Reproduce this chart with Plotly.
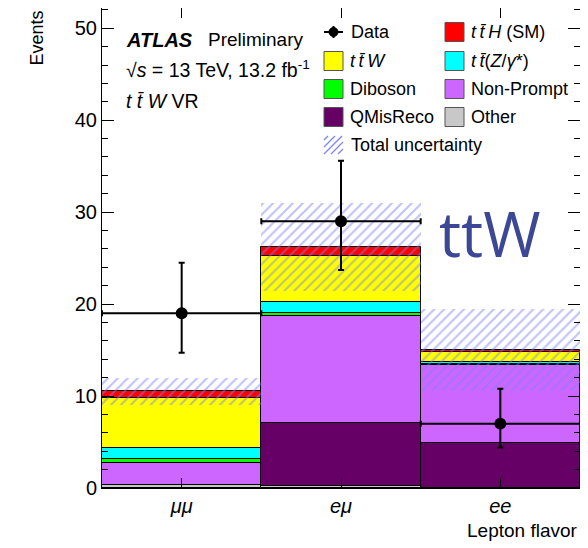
import plotly.graph_objects as go

# ---------------- data ----------------
bins = ["μμ", "eμ", "ee"]
x_pos = [0, 1, 2]
other = [0.30, 0.25, 0.00]
qmisreco = [0.00, 6.85, 4.85]
nonprompt = [2.40, 11.60, 8.55]
diboson = [0.40, 0.30, 0.05]
ttz = [1.20, 1.20, 0.20]
ttw = [5.45, 5.00, 1.15]
tth = [0.75, 1.00, 0.20]
total_unc = [1.45, 4.75, 4.45]
data = [19, 29, 7]
data_err_up = [5.5, 6.6, 3.8]
data_err_dn = [4.3, 5.3, 2.6]

# page has an 8px default body margin; compensate
OFF = 8
W, H = 588 - OFF, 548 - OFF
# plot area in page pixels: x 102..580, y 8..488
PL, PR, PT, PB = 102, 580, 8, 488
L, R, T, B = PL - OFF, (W + OFF) - PR, PT - OFF, (H + OFF) - PB
PW, PH = PR - PL, PB - PT


def px(x):
    return (x - PL) / PW


def py(y):
    return (PB - y) / PH


components = [
    ("Other", other, "#c8c8c8"),
    ("QMisReco", qmisreco, "#660066"),
    ("Non-Prompt", nonprompt, "#cc66ff"),
    ("Diboson", diboson, "#00ff00"),
    ("ttZ", ttz, "#00ffff"),
    ("ttW", ttw, "#ffff00"),
    ("ttH", tth, "#ff0000"),
]

fig = go.Figure()
base = [0.0, 0.0, 0.0]
for name, vals, col in components:
    fig.add_trace(go.Bar(
        x=x_pos, y=vals, base=list(base), width=1.0, name=name,
        marker=dict(color=col, line=dict(color="black", width=1)),
        showlegend=False, hoverinfo="skip"))
    base = [b + v for b, v in zip(base, vals)]

total = base
HATCH = "rgb(125,130,245)"
fig.add_trace(go.Bar(
    x=x_pos, y=[2 * u for u in total_unc],
    base=[t - u for t, u in zip(total, total_unc)], width=1.0,
    marker=dict(color="rgba(0,0,0,0)", line=dict(width=0),
                pattern=dict(shape="/", fgcolor=HATCH,
                             bgcolor="rgba(0,0,0,0)", size=7, solidity=0.28)),
    showlegend=False, hoverinfo="skip"))

fig.add_trace(go.Scatter(
    x=x_pos, y=data, mode="markers",
    marker=dict(color="black", size=12),
    error_y=dict(type="data", symmetric=False, array=data_err_up,
                 arrayminus=data_err_dn, color="black", thickness=2, width=3),
    error_x=dict(type="constant", value=0.5, color="black", thickness=2, width=3),
    showlegend=False, hoverinfo="skip"))

FONT = "Liberation Sans, Arial, sans-serif"
fig.update_layout(
    width=W, height=H, margin=dict(l=L, r=R, t=T, b=B, autoexpand=False),
    paper_bgcolor="white", plot_bgcolor="white",
    barmode="overlay", bargap=0, showlegend=False,
    font=dict(family=FONT, color="black", size=19),
)
fig.update_xaxes(
    range=[-0.5, 2.5], tickvals=x_pos, ticktext=[f"<i>{b}</i>" for b in bins],
    ticks="inside", ticklen=10, tickcolor="black", showline=True, linecolor="black",
    linewidth=1, mirror="ticks", showgrid=False, zeroline=False,
    tickfont=dict(size=20, family=FONT))
fig.update_yaxes(
    range=[0, 52.2], tickvals=[0, 10, 20, 30, 40, 50], ticks="inside", ticklen=12,
    tickcolor="black", showline=True, linecolor="black", linewidth=1, mirror="ticks",
    showgrid=False, zeroline=False, tickfont=dict(size=20, family=FONT),
    minor=dict(dtick=2, ticks="inside", ticklen=6, tickcolor="black", showgrid=False))

ann = []
shapes = []


def text(x, y, s, size=18, anchor="left", color="black", family=FONT):
    ann.append(dict(x=px(x), y=py(y), xref="paper", yref="paper", text=s,
                    showarrow=False, xanchor=anchor, yanchor="middle",
                    font=dict(size=size, color=color, family=family)))


# axis titles
ann.append(dict(x=px(37), y=py(9), xref="paper", yref="paper", text="Events",
                textangle=-90, showarrow=False, xanchor="center", yanchor="top",
                font=dict(size=18, family=FONT)))
ann.append(dict(x=px(580), y=py(530), xref="paper", yref="paper", text="Lepton flavor",
                showarrow=False, xanchor="right", yanchor="middle",
                font=dict(size=19, family=FONT)))

TS = "\u2009"  # thin space
# ATLAS label
text(124, 40, "<b><i>ATLAS</i></b>", size=20)
text(206, 40, "Preliminary", size=19)
text(124, 69, "√<i>s</i> = 13 TeV, 13.2 fb<sup>-1</sup>", size=19.5)
text(124, 101, "<i>t t̄ W</i> VR", size=19.5)

# big label
text(437, 233, "ttW", size=62, color="#3c4896", family="Open Sans, Liberation Sans, sans-serif")

# legend
rows = [32, 61, 89, 117, 145]
c1x, c2x = 324, 445
box = 19
# Data entry
shapes.append(dict(type="line", xref="paper", yref="paper", x0=px(324), x1=px(343),
                   y0=py(rows[0]), y1=py(rows[0]), line=dict(color="black", width=2)))
shapes.append(dict(type="line", xref="paper", yref="paper", x0=px(333.5), x1=px(333.5),
                   y0=py(rows[0] - 6), y1=py(rows[0] + 6), line=dict(color="black", width=2)))
shapes.append(dict(type="circle", xref="paper", yref="paper", x0=px(329), x1=px(338),
                   y0=py(rows[0] + 4.5), y1=py(rows[0] - 4.5), fillcolor="black",
                   line=dict(color="black", width=1)))
text(349, rows[0], "Data")

entries = [
    (c2x, rows[0], "#ff0000", f"<i>t{TS}t̄{TS}H</i> (SM)"),
    (c1x, rows[1], "#ffff00", f"<i>t{TS}t̄{TS}W</i>"),
    (c2x, rows[1], "#00ffff", f"<i>t{TS}t̄</i>(<i>Z</i>/<i>γ</i>*)"),
    (c1x, rows[2], "#00ff00", "Diboson"),
    (c2x, rows[2], "#cc66ff", "Non-Prompt"),
    (c1x, rows[3], "#660066", "QMisReco"),
    (c2x, rows[3], "#c8c8c8", "Other"),
]
for bx, by, col, lab in entries:
    shapes.append(dict(type="rect", xref="paper", yref="paper", x0=px(bx), x1=px(bx + box),
                       y0=py(by + box / 2), y1=py(by - box / 2), fillcolor=col,
                       line=dict(color="#555555", width=1)))
    text(bx + box + 5, by, lab)

# Total uncertainty hatch entry
top, bot = rows[4] - 9, rows[4] + 9
for k in range(-3, 4):
    x0 = c1x + k * 7
    xa, xb = max(x0, c1x), min(x0 + 18, c1x + box)
    if xb <= xa:
        continue
    shapes.append(dict(type="line", xref="paper", yref="paper",
                       x0=px(xa), x1=px(xb),
                       y0=py(bot - (xa - x0)), y1=py(bot - (xb - x0)),
                       line=dict(color=HATCH, width=1.2)))
text(349, rows[4], "Total uncertainty")

fig.update_layout(annotations=ann, shapes=shapes)
fig.write_html("out.html")
